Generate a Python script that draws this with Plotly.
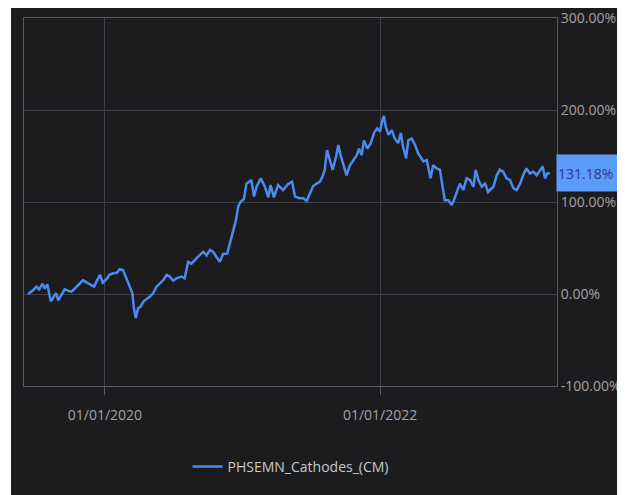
import plotly.graph_objects as go

series_name = "PHSEMN_Cathodes_(CM)"

dates = [
    "2019-06-11", "2019-06-16", "2019-06-24", "2019-07-03", "2019-07-10", "2019-07-19", "2019-07-25",
    "2019-08-01", "2019-08-10", "2019-08-16", "2019-08-24", "2019-08-30", "2019-09-05", "2019-09-16",
    "2019-09-25", "2019-10-04", "2019-10-13", "2019-10-26", "2019-11-04", "2019-11-13", "2019-11-23",
    "2019-12-03", "2019-12-11", "2019-12-19", "2019-12-26", "2020-01-07", "2020-01-12", "2020-01-23",
    "2020-02-02", "2020-02-09", "2020-02-18", "2020-02-25", "2020-03-05", "2020-03-14", "2020-03-18",
    "2020-03-23", "2020-03-29", "2020-04-04", "2020-04-13", "2020-04-25", "2020-04-29", "2020-05-08",
    "2020-05-17", "2020-05-26", "2020-06-04", "2020-06-13", "2020-06-21", "2020-06-30", "2020-07-09",
    "2020-07-22", "2020-07-31", "2020-08-09", "2020-08-18", "2020-08-31", "2020-09-09", "2020-09-18",
    "2020-09-27", "2020-10-06", "2020-10-14", "2020-10-23", "2020-11-01", "2020-11-10", "2020-11-21",
    "2020-11-28", "2020-12-07", "2020-12-14", "2020-12-20", "2020-12-26", "2021-01-04", "2021-01-11",
    "2021-01-18", "2021-01-24", "2021-01-31", "2021-02-07", "2021-02-18", "2021-03-01", "2021-03-10",
    "2021-03-16", "2021-03-25", "2021-04-05", "2021-04-18", "2021-05-02", "2021-05-12", "2021-05-20",
    "2021-06-02", "2021-06-11", "2021-06-20", "2021-06-29", "2021-07-07", "2021-07-16", "2021-07-25",
    "2021-08-01", "2021-08-07", "2021-08-13", "2021-08-21", "2021-08-28", "2021-09-06", "2021-09-12",
    "2021-09-18", "2021-09-27", "2021-10-04", "2021-10-13", "2021-10-22", "2021-10-31", "2021-11-06",
    "2021-11-13", "2021-11-19", "2021-11-28", "2021-12-07", "2021-12-16", "2021-12-24", "2022-01-01",
    "2022-01-05", "2022-01-11", "2022-01-16", "2022-01-23", "2022-02-01", "2022-02-09", "2022-02-18",
    "2022-02-25", "2022-03-03", "2022-03-11", "2022-03-17", "2022-03-26", "2022-04-04", "2022-04-12",
    "2022-04-26", "2022-05-05", "2022-05-15", "2022-05-22", "2022-05-31", "2022-06-09", "2022-06-16",
    "2022-06-22", "2022-07-01", "2022-07-10", "2022-07-16", "2022-07-23", "2022-08-01", "2022-08-10",
    "2022-08-19", "2022-08-28", "2022-09-06", "2022-09-12", "2022-09-19", "2022-09-28", "2022-10-07",
    "2022-10-15", "2022-10-29", "2022-11-07", "2022-11-15", "2022-11-24", "2022-12-03", "2022-12-12",
    "2022-12-21", "2022-12-30", "2023-01-08", "2023-01-16", "2023-01-25", "2023-02-03", "2023-02-12",
    "2023-02-21", "2023-03-02", "2023-03-09", "2023-03-15", "2023-03-21", "2023-03-28",
]

returns_pct = [
    0.0, 1.4, 4.0, 8.0, 5.0, 11.0, 6.0,
    10.5, -8.0, -4.5, 1.0, -7.0, -3.0, 5.0,
    3.6, 2.5, 6.0, 12.0, 15.0, 12.7, 10.5,
    8.0, 14.5, 20.7, 12.3, 17.0, 20.7, 22.5,
    23.0, 27.0, 26.0, 19.0, 8.0, 0.7, -15.5,
    -26.0, -15.5, -14.0, -8.0, -4.7, -3.0, 0.7,
    8.0, 11.6, 15.0, 20.7, 19.0, 14.5, 17.0,
    19.0, 17.0, 35.0, 33.0, 38.7, 42.0, 46.0,
    42.0, 47.8, 46.0, 40.5, 35.0, 43.5, 44.0,
    55.0, 69.6, 80.0, 95.0, 100.0, 103.0, 120.0,
    122.0, 124.0, 106.0, 116.6, 125.7, 116.6, 105.0,
    118.5, 105.0, 118.5, 113.0, 119.6, 122.0, 106.0,
    104.0, 104.0, 101.0, 109.0, 117.0, 120.0, 122.0,
    127.5, 135.0, 156.5, 144.0, 135.0, 149.0, 162.0,
    151.0, 140.0, 129.0, 140.0, 145.7, 151.0, 158.0,
    151.0, 167.0, 158.0, 164.0, 175.0, 180.0, 176.6,
    185.5, 193.5, 182.0, 173.0, 178.0, 169.0, 164.0,
    175.0, 160.0, 147.5, 167.0, 169.0, 162.0, 153.0,
    144.0, 145.7, 125.7, 140.0, 136.6, 135.0, 116.6,
    102.0, 102.0, 96.7, 102.0, 109.0, 120.0, 113.0,
    125.7, 124.0, 116.6, 135.0, 124.0, 116.6, 120.0,
    111.0, 116.6, 129.0, 135.0, 133.0, 125.7, 124.0,
    115.0, 113.0, 120.0, 129.0, 136.6, 131.0, 133.0,
    129.0, 135.0, 138.5, 125.7, 131.0, 131.18,
]

y_ticks = [-100, 0, 100, 200, 300]
y_tick_labels = ["-100.00%", "0.00%", "100.00%", "200.00%", "300.00%"]
x_ticks = ["2020-01-01", "2022-01-01"]
x_tick_labels = ["01/01/2020", "01/01/2022"]
x_range = ["2019-05-31", "2023-04-16"]

BG = "#1c1c1f"
GRID = "#414145"
AXIS = "#5a5a5e"
LINE = "#4a8af2"
BADGE = "#5b9cf8"
TICKCOL = "#a3a3a3"
FONT = "Open Sans"

# plot area 533 x 368 px; page has an 8 px body margin
PW, PH = 533, 368
ML, MT = 16, 10
W, H = 617, 487

fig = go.Figure()
fig.add_trace(go.Scatter(
    x=dates, y=returns_pct, mode="lines", name=series_name,
    line=dict(color=LINE, width=2.5),
))

fig.update_layout(
    width=W, height=H,
    margin=dict(l=ML, r=W - ML - PW, t=MT, b=H - MT - PH, autoexpand=False),
    paper_bgcolor="white",
    plot_bgcolor=BG,
    font=dict(family=FONT, size=14, color=TICKCOL),
    showlegend=True,
    legend=dict(orientation="h", x=0.5, xanchor="center", y=-81 / PH, yanchor="middle",
                font=dict(color="#c9c9c9", size=14), bgcolor="rgba(0,0,0,0)"),
    shapes=[dict(type="rect", xref="paper", yref="paper",
                 x0=-13 / PW, x1=(W - ML + 5) / PW, y0=-(H - MT - PH + 5) / PH, y1=(PH + MT + 5) / PH,
                 fillcolor=BG, line=dict(width=0), layer="below")],
)

fig.update_xaxes(
    type="date", range=x_range, automargin=False,
    tickvals=x_ticks, ticktext=x_tick_labels,
    showgrid=True, gridcolor=GRID, gridwidth=1,
    showline=True, linecolor=AXIS, linewidth=1, mirror=True,
    ticks="outside", ticklen=8, tickcolor=AXIS,
    ticklabelstandoff=8,
    tickfont=dict(size=14, color=TICKCOL),
    zeroline=False,
)
fig.update_yaxes(
    side="right", range=[-100, 300], automargin=False,
    ticklabeloverflow="allow",
    tickvals=y_ticks, ticktext=y_tick_labels,
    showgrid=True, gridcolor=GRID, gridwidth=1,
    showline=True, linecolor=AXIS, linewidth=1, mirror=True,
    ticks="", tickfont=dict(size=14, color=TICKCOL),
    zeroline=False,
)

fig.add_annotation(
    xref="paper", yref="y", x=1, y=returns_pct[-1],
    xanchor="left", yanchor="middle", xshift=-1,
    text=f"{returns_pct[-1]:.2f}%", showarrow=False,
    bgcolor=BADGE, width=72, height=34, align="left",
    font=dict(size=14, color="#35358f", family=FONT),
)

fig.write_html("out.html")
